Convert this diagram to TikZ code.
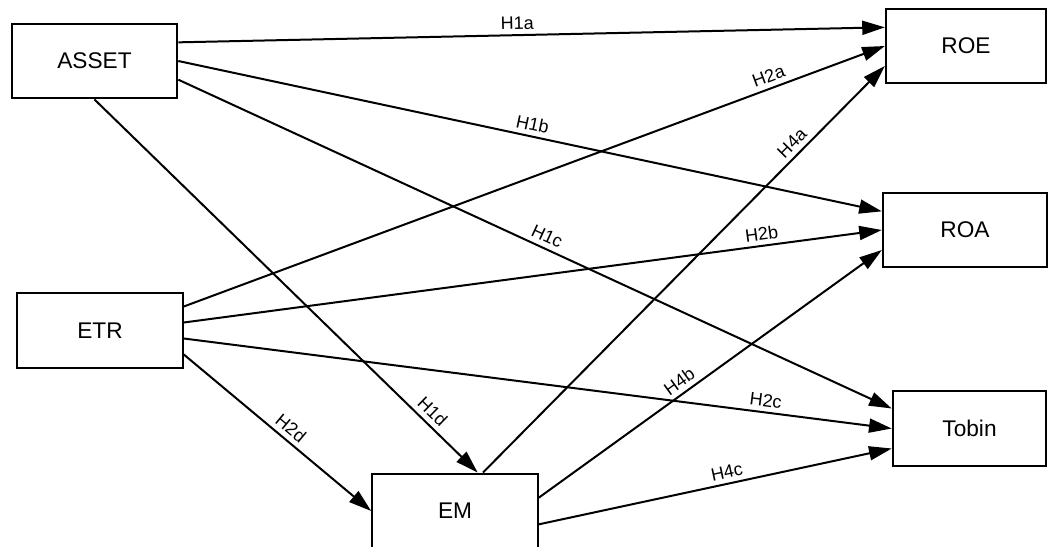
\documentclass[tikz,border=0pt]{standalone}
\usepackage{fontspec}
\setmainfont{Liberation Sans}
\usetikzlibrary{arrows.meta}

\begin{document}
\begin{tikzpicture}[x=0.75pt,y=0.75pt,>={Triangle[length=17pt,width=10.5pt]},
  var/.style={draw,line width=1.7pt,minimum height=56pt,font=\fontsize{17}{20}\selectfont},
  hyp/.style={->,line width=1.5pt},
  lab/.style={sloped,above,inner sep=3.5pt,font=\fontsize{13.5}{16}\selectfont}]
\useasboundingbox (0,0) rectangle (1048,-546);
% independent variables
\node[var,minimum width=124pt] (asset) at (94.5,-61) {ASSET};
\node[var,minimum width=124pt] (etr) at (100,-330.5) {ETR};
\node[var,minimum width=124pt] (em) at (455,-511) {EM};
% firm value
\node[var,minimum width=120pt] (roe) at (966,-46) {ROE};
\node[var,minimum width=123pt] (roa) at (965,-230) {ROA};
\node[var,minimum width=115pt] (tobin) at (969.5,-428.5) {Tobin};
% H1
\draw[hyp] ([yshift=14pt]asset.east) -- ([yshift=14pt]roe.west) node[lab,pos=0.48]{H1a};
\draw[hyp] (asset.east) -- ([yshift=14pt]roa.west) node[lab,pos=0.5]{H1b};
\draw[hyp] ([yshift=-14pt]asset.east) -- ([yshift=15pt]tobin.west) node[lab,pos=0.51]{H1c};
\draw[hyp] (asset.south) -- ([xshift=17pt]em.north) node[lab,pos=0.86]{H1d};
% H2
\draw[hyp] ([yshift=18pt]etr.east) -- (roe.west) node[lab,pos=0.84]{H2a};
\draw[hyp] ([yshift=6pt]etr.east) -- (roa.west) node[lab,pos=0.83]{H2b};
\draw[hyp] ([yshift=-6pt]etr.east) -- (tobin.west) node[lab,pos=0.82]{H2c};
\draw[hyp] ([yshift=-18pt]etr.east) -- (em.west) node[lab,pos=0.53]{H2d};
% H4
\draw[hyp] ([xshift=21pt]em.north) -- ([yshift=-15pt]roe.west) node[lab,pos=0.79]{H4a};
\draw[hyp] ([yshift=10pt]em.east) -- ([yshift=-15pt]roa.west) node[lab,pos=0.43]{H4b};
\draw[hyp] ([yshift=-10pt]em.east) -- ([yshift=-15pt]tobin.west) node[lab,pos=0.54]{H4c};
\end{tikzpicture}
\end{document}
